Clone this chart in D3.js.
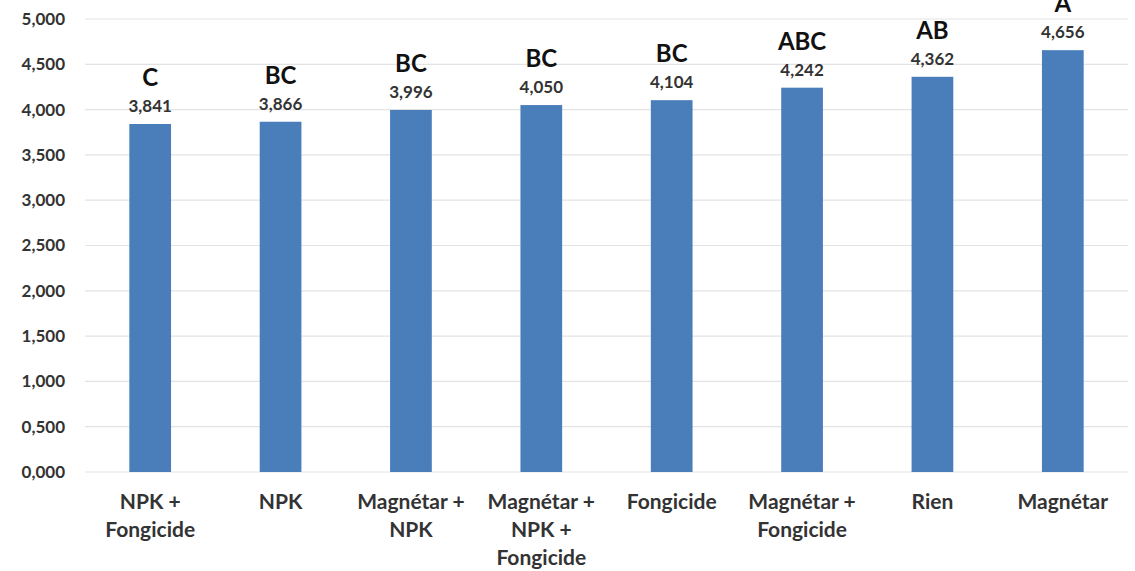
<!DOCTYPE html>
<html><head><meta charset="utf-8">
<script src="https://cdn.jsdelivr.net/npm/d3@7"></script>
<style>
body{margin:0;background:#fff;}
svg{display:block;font-family:Lato,"Open Sans",sans-serif;}
</style></head><body>
<svg id="c" width="1135" height="571"></svg>
<script>
const categories = [["NPK +","Fongicide"],["NPK"],["Magnétar +","NPK"],["Magnétar +","NPK +","Fongicide"],["Fongicide"],["Magnétar +","Fongicide"],["Rien"],["Magnétar"]];
const values = [3.841, 3.866, 3.996, 4.050, 4.104, 4.242, 4.362, 4.656];
const letters = ["C","BC","BC","BC","BC","ABC","AB","A"];
const yTicks = [0,0.5,1,1.5,2,2.5,3,3.5,4,4.5,5];

const svg = d3.select("#c");
const m = {l:85, r:7, t:19, b:99};
const W = 1135, H = 571;
const x = d3.scaleBand().domain(d3.range(values.length)).range([m.l, W-m.r]).paddingInner(0.68).paddingOuter(0.34);
const y = d3.scaleLinear().domain([0,5]).range([H-m.b, m.t]);
const fmt = v => d3.format(".3f")(v).replace(".", ",");

// grid
svg.append("g").selectAll("line").data(yTicks).join("line")
  .attr("x1", m.l).attr("x2", W-m.r)
  .attr("y1", d=>y(d)).attr("y2", d=>y(d))
  .attr("stroke", "#e3e3e3").attr("stroke-width", 1.2);

// y axis
const ya = svg.append("g").attr("transform", `translate(${m.l-6},0)`)
  .call(d3.axisLeft(y).tickValues(yTicks).tickFormat(fmt).tickSize(0).tickPadding(14));
ya.select(".domain").remove();
ya.selectAll("text").attr("font-size", 17).attr("font-weight", "bold").attr("fill", "#333").attr("font-family","Lato,'Open Sans',sans-serif");

// bars
svg.append("g").selectAll("rect").data(values).join("rect")
  .attr("x", (d,i)=>x(i)).attr("width", x.bandwidth())
  .attr("y", d=>y(d)).attr("height", d=>y(0)-y(d))
  .attr("fill", "#4a7ebb");

// value labels
svg.append("g").selectAll("text").data(values).join("text")
  .attr("x", (d,i)=>x(i)+x.bandwidth()/2).attr("y", d=>y(d)-12)
  .attr("text-anchor","middle").attr("font-size", 17).attr("font-weight","bold").attr("fill","#333")
  .text(d=>fmt(d));

// letters
svg.append("g").selectAll("text").data(letters).join("text")
  .attr("x", (d,i)=>x(i)+x.bandwidth()/2).attr("y", (d,i)=>y(values[i])-38)
  .attr("text-anchor","middle").attr("font-size", 24).attr("font-weight","bold").attr("fill","#111")
  .text(d=>d);

// x labels
const xl = svg.append("g").selectAll("text").data(categories).join("text")
  .attr("x", (d,i)=>x(i)+x.bandwidth()/2).attr("y", 509)
  .attr("text-anchor","middle").attr("font-size", 21).attr("font-weight","bold").attr("fill","#333");
xl.selectAll("tspan").data(d=>d).join("tspan")
  .attr("x", function(){return this.parentNode.getAttribute("x");})
  .attr("dy", (d,i)=>i===0?0:28).text(d=>d);
</script>
</body></html>
